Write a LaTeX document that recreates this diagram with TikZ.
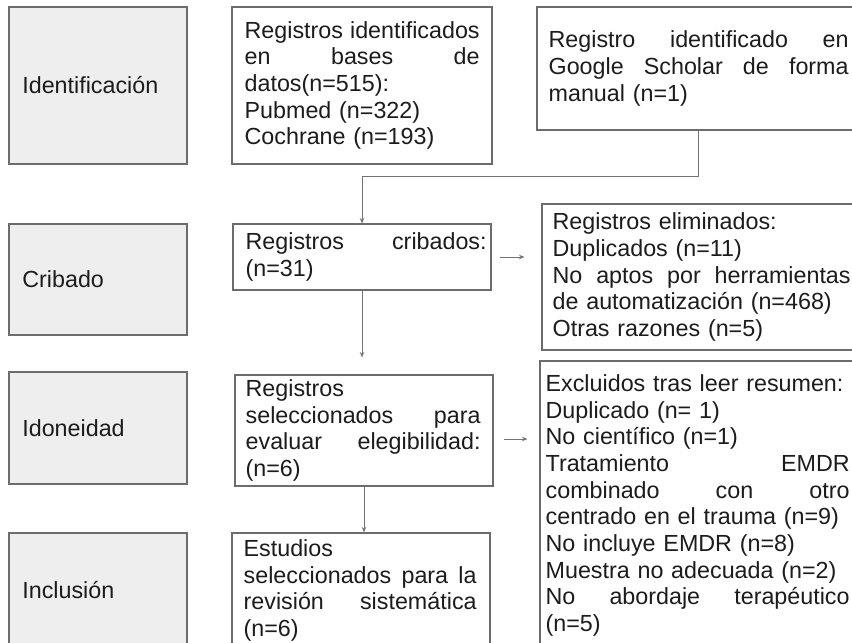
\documentclass[tikz,border=0pt]{standalone}
\usepackage{fontspec}
\setmainfont{Liberation Sans}
\usetikzlibrary{arrows.meta}
\definecolor{bordergray}{RGB}{108,108,108}
\definecolor{fillgray}{RGB}{238,238,238}
\definecolor{txtcol}{RGB}{28,28,28}
\definecolor{arrowgray}{RGB}{115,115,115}
\begin{document}
\begin{tikzpicture}[x=1pt,y=-1pt,
  stagebox/.style={draw=bordergray, line width=1.1pt, fill=fillgray, inner sep=0pt},
  flowbox/.style={draw=bordergray, line width=1.1pt, fill=white, inner sep=0pt},
  txt/.style={inner sep=0pt, anchor=west, align=left, text=txtcol,
              font=\fontsize{23.3}{26.7}\selectfont},
  conn/.style={draw=arrowgray, line width=0.9pt, -{Stealth[length=5.5pt,width=4.5pt]}}]
\clip (0,0) rectangle (852,643);
\fill[white] (0,0) rectangle (852,643);

% stage boxes
\node[stagebox, minimum width=178pt, minimum height=157pt] (idf) at (98,85.5) {};
\node[stagebox, minimum width=178pt, minimum height=111pt] (cri) at (98,279.5) {};
\node[stagebox, minimum width=178pt, minimum height=112pt] (ido) at (98,428) {};
\node[stagebox, minimum width=178pt, minimum height=115pt] (inc) at (98,590.5) {};
\node[txt, text width=152pt] (idfT) at ([xshift=13.7pt]idf.west) {Identificación};
\node[txt, text width=152pt] (criT) at ([xshift=13.7pt]cri.west) {Cribado};
\node[txt, text width=152pt] (idoT) at ([xshift=13.7pt]ido.west) {Idoneidad};
\node[txt, text width=152pt] (incT) at ([xshift=13.7pt]inc.west) {Inclusión};

% flow boxes
\node[flowbox, minimum width=260pt, minimum height=157pt] (reg) at (362,85.5) {};
\node[flowbox, minimum width=323pt, minimum height=123pt] (gs) at (698.5,68.5) {};
\node[flowbox, minimum width=258pt, minimum height=66pt] (crib) at (362,257) {};
\node[flowbox, minimum width=318pt, minimum height=146pt] (elim) at (701,277) {};
\node[flowbox, minimum width=258pt, minimum height=111pt] (sel) at (364,430.5) {};
\node[flowbox, minimum width=320pt, minimum height=289pt] (excl) at (700,505.5) {};
\node[flowbox, minimum width=258pt, minimum height=115pt] (est) at (361,590.5) {};

\node[txt, text width=235pt] (regT) at ([xshift=13pt]reg.west)
  {Registros\hfill identificados\\ en\hfill bases\hfill de\\ datos(n=515):\\ Pubmed (n=322)\\ Cochrane (n=193)};
\node[txt, text width=300pt] (gsT) at ([xshift=12pt]gs.west)
  {Registro\hfill identificado\hfill en\\ Google\hfill Scholar\hfill de\hfill forma\\ manual (n=1)};
\node[txt, text width=241pt] (cribT) at ([xshift=13pt]crib.west)
  {Registros\hfill cribados:\\ (n=31)};
\node[txt, text width=298pt] (elimT) at ([xshift=11pt]elim.west)
  {Registros eliminados:\\ Duplicados (n=11)\\ No\hfill aptos\hfill por\hfill herramientas\\ de automatización (n=468)\\ Otras razones (n=5)};
\node[txt, text width=235pt] (selT) at ([xshift=11pt]sel.west)
  {Registros\\ seleccionados\hfill para\\ evaluar\hfill elegibilidad:\\ (n=6)};
\node[txt, text width=304pt] (exclT) at ([xshift=6pt]excl.west)
  {Excluidos tras leer resumen:\\ Duplicado (n= 1)\\ No científico (n=1)\\ Tratamiento\hfill EMDR\\ combinado\hfill con\hfill otro\\ centrado en el trauma (n=9)\\ No incluye EMDR (n=8)\\ Muestra no adecuada (n=2)\\ No\hfill abordaje\hfill terapéutico\\ (n=5)};
\node[txt, text width=233pt] (estT) at ([xshift=12pt]est.west)
  {Estudios\\ seleccionados\hfill para\hfill la\\ revisión\hfill sistemática\\ (n=6)};

% connectors
\draw[conn] (gs.south) -- ++(0,46) -| (crib.north);
\draw[conn, shorten >=17pt] (crib.south) -- (crib.south |- sel.north);
\draw[conn] (sel.south) -- (sel.south |- est.north);
\draw[conn, shorten <=8pt, shorten >=17pt] (crib.east) -- (crib.east -| elim.west);
\draw[conn, shorten <=10pt, shorten >=12pt] ([yshift=-8.5pt]sel.east) -- ([yshift=-8.5pt]sel.east -| excl.west);
\end{tikzpicture}
\end{document}
